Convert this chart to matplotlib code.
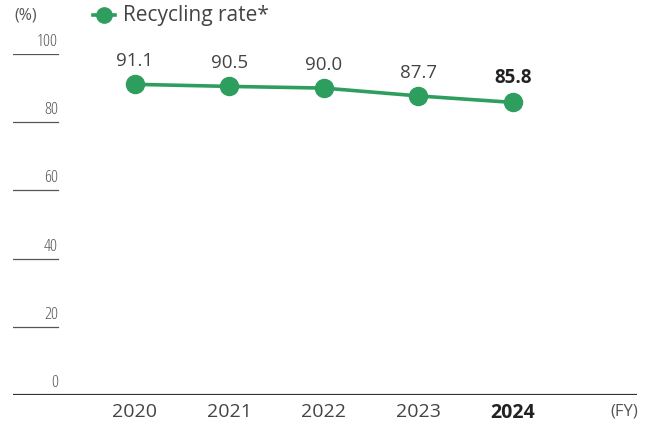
import matplotlib
matplotlib.use("Agg")
import matplotlib.pyplot as plt

years = ["2020", "2021", "2022", "2023", "2024"]
rates = [91.1, 90.5, 90.0, 87.7, 85.8]
yticks = [0, 20, 40, 60, 80, 100]

plt.rcParams['font.family'] = ['Open Sans', 'DejaVu Sans']
green = "#2e9e5e"
grey = "#444444"

W, H = 651, 425
fig = plt.figure(figsize=(W / 100, H / 100), dpi=100)

# axes spans pixel x 13..637, y 54 (100) .. 395 (0)
ax = fig.add_axes([13 / W, (H - 395) / H, (637 - 13) / W, (395 - 54) / H])
step = 94.5
ax.set_xlim((13 - 135) / step, (637 - 135) / step)
ax.set_ylim(0, 100)
ax.axis("off")

x = list(range(len(years)))
ax.plot(x, rates, color=green, lw=2.6, marker="o", ms=13, zorder=3, clip_on=False)

# short tick lines with labels above
xl = (13 - 135) / step
xr = (58 - 135) / step
for t in yticks[1:]:
    ax.plot([xl, xr], [t, t], color="#555555", lw=0.9)
for t in yticks:
    ax.text(xr, t + 1.2, str(t), ha="right", va="bottom", fontsize=12.5,
            color="#555555", fontstretch="condensed")
ax.axhline(0, color="#333333", lw=1.6)

for i, (yr, v) in enumerate(zip(years, rates)):
    last = i == len(years) - 1
    ax.text(i, v + 4.2, f"{v:.1f}", ha="center", va="bottom", fontsize=13.5,
            color="#222222" if last else grey,
            fontweight="bold" if last else "normal")
    ax.text(i, -2.3, yr, ha="center", va="top", fontsize=14,
            color="#222222" if last else grey,
            fontweight="bold" if last else "normal")

fig.text(624 / W, 1 - 411 / H, "(FY)", ha="center", va="center", fontsize=12,
         color="#555555")
fig.text(14 / W, 1 - 16 / H, "(%)", ha="left", va="center", fontsize=11.5,
         color="#555555")

# legend
fig.add_artist(plt.Line2D([93 / W, 104 / W, 115 / W], [1 - 15 / H] * 3,
                          color=green, lw=2.6, marker="o", ms=11,
                          markevery=[1], transform=fig.transFigure))
fig.text(123 / W, 1 - 15 / H, "Recycling rate*", ha="left", va="center",
         fontsize=15, color=grey)

fig.savefig("out.png", dpi=100)
